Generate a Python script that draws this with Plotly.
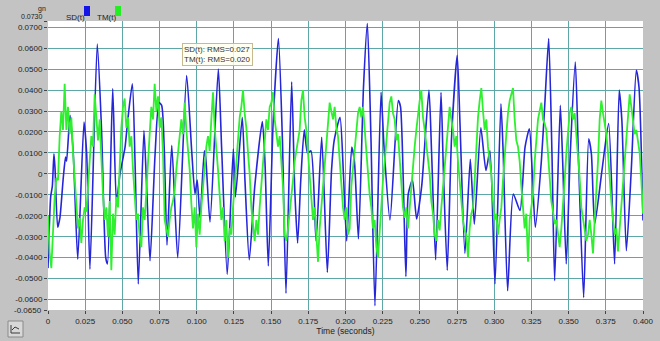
import numpy as np
import plotly.graph_objects as go

# ---------------- data ----------------
sd_t = [0.0000, 0.0018, 0.0029, 0.0040, 0.0047, 0.0065, 0.0080, 0.0103, 0.0118, 0.0125,
        0.0148, 0.0170, 0.0200, 0.0242, 0.0260, 0.0282, 0.0331, 0.0360, 0.0388, 0.0400,
        0.0435, 0.0460, 0.0484, 0.0518, 0.0536, 0.0567, 0.0585, 0.0607, 0.0645, 0.0663,
        0.0686, 0.0720, 0.0746, 0.0764, 0.0782, 0.0800, 0.0832, 0.0872, 0.0932, 0.0966,
        0.0988, 0.1003, 0.1022, 0.1051, 0.1060, 0.1089, 0.1145, 0.1167, 0.1205, 0.1246,
        0.1260, 0.1306, 0.1324, 0.1353, 0.1390, 0.1441, 0.1459, 0.1481, 0.1514, 0.1549,
        0.1576, 0.1600, 0.1638, 0.1658, 0.1678, 0.1700, 0.1723, 0.1745, 0.1768, 0.1802,
        0.1840, 0.1878, 0.1906, 0.1924, 0.1963, 0.1986, 0.2008, 0.2042, 0.2060, 0.2087,
        0.2121, 0.2147, 0.2171, 0.2198, 0.2239, 0.2259, 0.2299, 0.2355, 0.2370, 0.2406,
        0.2422, 0.2450, 0.2478, 0.2512, 0.2561, 0.2579, 0.2606, 0.2642, 0.2658, 0.2684,
        0.2713, 0.2751, 0.2769, 0.2803, 0.2839, 0.2866, 0.2910, 0.2944, 0.2971, 0.3005,
        0.3045, 0.3060, 0.3090, 0.3128, 0.3173, 0.3207, 0.3236, 0.3258, 0.3276, 0.3317,
        0.3340, 0.3366, 0.3388, 0.3406, 0.3444, 0.3460, 0.3484, 0.3511, 0.3545, 0.3567,
        0.3601, 0.3635, 0.3653, 0.3675, 0.3724, 0.3769, 0.3809, 0.3840, 0.3858, 0.3888,
        0.3921, 0.3955, 0.3973, 0.4000]
sd_v = [-0.045, -0.011, -0.006, 0.0096, 0.003, -0.0255, -0.021, -0.0016, 0.008, 0.006,
        0.028, 0.0096, -0.0407, 0.0247, 0.0096, -0.0455, 0.062, 0.021, -0.040, -0.043,
        0.0407, -0.0136, 0.000, 0.0128, 0.0255, 0.043, 0.006, -0.0526, 0.0207, -0.006,
        -0.0415, 0.0096, 0.034, 0.0327, 0.011, -0.034, 0.0136, -0.040, 0.047, 0.011,
        -0.0096, -0.003, -0.021, 0.011, 0.008, -0.023, 0.050, 0.0128, -0.048, 0.012,
        -0.011, 0.027, -0.003, -0.041, -0.006, 0.025, 0.005, -0.044, 0.0255, 0.0646,
        0.016, -0.057, 0.044, -0.006, -0.033, -0.002, 0.021, 0.010, 0.011, -0.032,
        0.0175, -0.047, 0.0016, 0.016, 0.027, 0.000, -0.032, 0.0128, 0.006, -0.031,
        0.0415, 0.0718, 0.0175, -0.063, 0.039, 0.0128, -0.022, 0.035, 0.032, -0.049,
        -0.0096, -0.003, -0.0215, -0.006, 0.040, 0.0096, -0.041, 0.039, 0.0016, -0.046,
        0.0175, 0.0566, 0.0255, -0.038, 0.007, -0.024, 0.022, 0.0016, 0.011, -0.0526,
        0.0335, 0.010, -0.0558, -0.0096, -0.0175, 0.0128, 0.0215, -0.003, -0.0255, 0.0064,
        0.0335, 0.0646, 0.0096, -0.051, 0.0327, 0.006, -0.043, 0.0096, 0.0534, 0.006,
        -0.059, 0.0167, 0.0096, -0.024, 0.0016, 0.024, -0.043, 0.040, 0.0255, -0.0367,
        0.0016, 0.0494, 0.0415, -0.0223]

tm_v = [
    # 0.000 - 0.080
    -0.020, -0.038, -0.045, -0.026, -0.011, -0.002, -0.003, 0.018, 0.030, 0.021,
    0.043, 0.021, 0.032, 0.019, 0.027, 0.010, -0.002, -0.016, -0.026, -0.021,
    -0.033, -0.022, -0.016, -0.018, -0.008, 0.006, 0.018, 0.013, 0.038, 0.026,
    0.016, 0.026, 0.003, -0.010, -0.022, -0.016, -0.030, -0.013, -0.046, -0.019,
    -0.029, -0.011, -0.016, 0.006, 0.022, 0.032, 0.036, 0.022, 0.027, 0.013,
    0.018, 0.002, -0.013, -0.022, -0.019, -0.030, -0.035, -0.016, -0.022, -0.006,
    0.006, 0.019, 0.032, 0.026, 0.043, 0.030, 0.037, 0.022, 0.027, 0.010,
    # 0.080 - 0.160
    -0.022, -0.026, -0.030, -0.022, -0.016, -0.013, -0.008, 0.002, 0.010, 0.021,
    0.026, 0.019, 0.034, 0.021, 0.010, 0.002, -0.014, -0.026, -0.016, -0.035,
    -0.019, -0.029, -0.016, -0.006, 0.006, 0.013, 0.018, 0.011, 0.026, 0.039,
    0.022, 0.013, 0.002, -0.010, -0.022, -0.016, -0.032, -0.022, -0.040, -0.026,
    -0.029, -0.016, -0.006, 0.006, 0.016, 0.027, 0.032, 0.040, 0.029, 0.022,
    0.010, 0.000, -0.016, -0.026, -0.032, -0.022, -0.029, -0.016, -0.006, 0.006,
    0.016, 0.026, 0.021, 0.032, 0.034, 0.039, 0.026, 0.019, 0.013, 0.018,
    0.006, -0.006,
    # 0.160 - 0.240
    -0.029, -0.032, -0.026, -0.019, -0.010, -0.003, 0.006, 0.011, 0.018, 0.021,
    0.035, 0.040, 0.027, 0.021, 0.010, 0.000, -0.010, -0.022, -0.016, -0.029,
    -0.042, -0.026, -0.016, -0.006, 0.006, 0.016, 0.026, 0.034, 0.030, 0.026,
    0.032, 0.022, 0.018, 0.006, -0.003, -0.016, -0.022, -0.016, -0.029, -0.026,
    -0.006, 0.002, 0.013, 0.019, 0.029, 0.032, 0.027, 0.032, 0.021, 0.013,
    0.002, -0.010, -0.016, -0.026, -0.022, -0.035, -0.040, -0.026, -0.013, -0.003,
    0.006, 0.016, 0.026, 0.034, 0.037, 0.029, 0.026, 0.016, 0.019, 0.006,
    -0.003, -0.016,
    # 0.240 - 0.320
    -0.021, -0.016, -0.026, -0.016, -0.003, 0.006, 0.013, 0.021, 0.029, 0.035,
    0.040, 0.027, 0.021, 0.014, 0.010, 0.000, -0.013, -0.019, -0.029, -0.032,
    -0.022, -0.027, -0.016, -0.006, 0.006, 0.016, 0.026, 0.032, 0.026, 0.021,
    0.013, 0.018, 0.006, -0.003, -0.016, -0.022, -0.027, -0.029, -0.040, -0.026,
    -0.019, -0.016, -0.003, 0.013, 0.027, 0.035, 0.041, 0.030, 0.021, 0.026,
    0.013, 0.006, 0.000, -0.013, -0.022, -0.019, -0.029, -0.022, -0.016, -0.003,
    0.006, 0.019, 0.029, 0.035, 0.038, 0.041, 0.026, 0.016, 0.013, 0.006,
    -0.006, -0.016,
    # 0.320 - 0.400
    -0.026, -0.019, -0.042, -0.022, -0.016, -0.010, 0.006, 0.016, 0.026, 0.030,
    0.034, 0.026, 0.024, 0.021, 0.010, -0.002, -0.013, -0.018, -0.024, -0.022,
    -0.030, -0.035, -0.026, -0.016, -0.003, 0.010, 0.022, 0.029, 0.032, 0.026,
    0.029, 0.019, 0.010, -0.002, -0.016, -0.022, -0.026, -0.032, -0.029, -0.022,
    -0.029, -0.038, -0.022, -0.010, 0.006, 0.026, 0.035, 0.029, 0.024, 0.019,
    0.010, -0.003, -0.013, -0.022, -0.029, -0.026, -0.037, -0.026, -0.016, -0.006,
    0.006, 0.016, 0.026, 0.038, 0.032, 0.026, 0.019, 0.021, 0.016, 0.010,
    -0.003, -0.019,
]
tm_t = np.linspace(0.0, 0.4, len(tm_v))  # uniform sample times of the recording

x_ticks = [0, 0.025, 0.05, 0.075, 0.1, 0.125, 0.15, 0.175, 0.2, 0.225, 0.25, 0.275,
           0.3, 0.325, 0.35, 0.375, 0.4]
x_labels = ["0", "0.025", "0.050", "0.075", "0.100", "0.125", "0.150", "0.175", "0.200",
            "0.225", "0.250", "0.275", "0.300", "0.325", "0.350", "0.375", "0.400"]
y_ticks = [0.073, 0.07, 0.06, 0.05, 0.04, 0.03, 0.02, 0.01, 0, -0.01, -0.02, -0.03,
           -0.04, -0.05, -0.06, -0.065]
y_labels = ["", "0.0700", "0.0600", "0.0500", "0.0400", "0.0300", "0.0200", "0.0100",
            "0", "-0.0100", "-0.0200", "-0.0300", "-0.0400", "-0.0500", "-0.0600", ""]
y_max_label, y_min_label = "0.0730", "-0.0650"
rms_text = "SD(t): RMS=0.027<br>TM(t): RMS=0.020"

BLUE = "#2626d9"
GREEN = "#2ef02e"
GRID = "#5da7a7"
BG = "#c3c3c3"
FONT = "Liberation Sans, Arial, sans-serif"
TXT = "#222222"

fig = go.Figure()
fig.add_trace(go.Scatter(x=sd_t, y=sd_v, mode="lines", name="SD(t)",
                         line=dict(color=BLUE, width=1.6, shape="spline", smoothing=0.6)))
fig.add_trace(go.Scatter(x=tm_t, y=tm_v, mode="lines", name="TM(t)",
                         line=dict(color=GREEN, width=1.8)))

L, R, T, B, W, H = 48, 17, 21, 31, 660, 341
pw, ph = W - L - R, H - T - B


def px(x):
    return (x - L) / pw


def py(y):
    return (H - B - y) / ph


fig.update_layout(
    width=W, height=H, autosize=False,
    margin=dict(l=L, r=R, t=T, b=B, autoexpand=False),
    paper_bgcolor=BG, plot_bgcolor="white",
    showlegend=False,
    font=dict(family=FONT, size=8, color=TXT),
    xaxis=dict(range=[0, 0.4], tickvals=x_ticks, ticktext=x_labels, automargin=False,
               showgrid=True, gridcolor=GRID, gridwidth=1, zeroline=False,
               ticks="outside", ticklen=3, tickcolor="#444444",
               tickfont=dict(size=8, family=FONT, color=TXT),
               title=dict(text="Time (seconds)", font=dict(size=8.5, family=FONT, color=TXT),
                          standoff=1),
               showline=False),
    yaxis=dict(range=[-0.065, 0.073], tickvals=y_ticks, ticktext=y_labels, automargin=False,
               showgrid=True, gridcolor=GRID, gridwidth=1, zeroline=False,
               ticks="outside", ticklen=3, tickcolor="#444444",
               tickfont=dict(size=8, family=FONT, color=TXT),
               showline=False),
)

# end-of-range y labels, nudged away from their neighbours as in the original
fig.add_annotation(x=px(44), y=py(16.5), xref="paper", yref="paper", text=y_max_label,
                   xanchor="right", yanchor="middle", showarrow=False, borderpad=0,
                   font=dict(size=7, family=FONT, color=TXT))
fig.add_annotation(x=px(44), y=py(310), xref="paper", yref="paper", text=y_min_label,
                   xanchor="right", yanchor="middle", showarrow=False,
                   font=dict(size=8, family=FONT, color=TXT))
# unit label
fig.add_annotation(x=px(37), y=py(4.5), xref="paper", yref="paper", text="gn",
                   showarrow=False, borderpad=0, font=dict(size=7, family=FONT, color=TXT))
# legend (text then swatch)
fig.add_annotation(x=px(64), y=py(11), xref="paper", yref="paper", text="SD(t)",
                   xanchor="left", showarrow=False, font=dict(size=8, family=FONT, color=TXT))
fig.add_annotation(x=px(95), y=py(11), xref="paper", yref="paper", text="TM(t)",
                   xanchor="left", showarrow=False, font=dict(size=8, family=FONT, color=TXT))
fig.add_shape(type="rect", xref="paper", yref="paper", x0=px(84), x1=px(90), y0=py(16), y1=py(6),
              fillcolor="#1414e6", line=dict(width=0))
fig.add_shape(type="rect", xref="paper", yref="paper", x0=px(115), x1=px(121), y0=py(16), y1=py(6),
              fillcolor="#22ee22", line=dict(width=0))
# RMS box
fig.add_annotation(x=px(182), y=py(43), xref="paper", yref="paper", text=rms_text,
                   xanchor="left", yanchor="top", align="left", showarrow=False,
                   font=dict(size=8, family=FONT, color="#333333"),
                   bgcolor="rgba(255,255,240,0.85)", bordercolor="#c9b98f", borderwidth=1, borderpad=1)
# small icon bottom-left
fig.add_shape(type="rect", xref="paper", yref="paper", x0=px(8), x1=px(23), y0=py(337), y1=py(321),
              fillcolor="#d8d8d8", line=dict(color="#8a8a8a", width=1))
fig.add_shape(type="path", xref="paper", yref="paper",
              path=f"M {px(11)} {py(333)} L {px(11)} {py(325)} M {px(11)} {py(333)} L {px(20)} {py(333)} "
                   f"M {px(12)} {py(330)} L {px(15)} {py(327)} L {px(19)} {py(329)}",
              line=dict(color="#3a3a3a", width=1))

fig.write_html("out.html", config={"displayModeBar": False},
               post_script="document.body.style.margin='0';document.body.style.overflow='hidden';")
